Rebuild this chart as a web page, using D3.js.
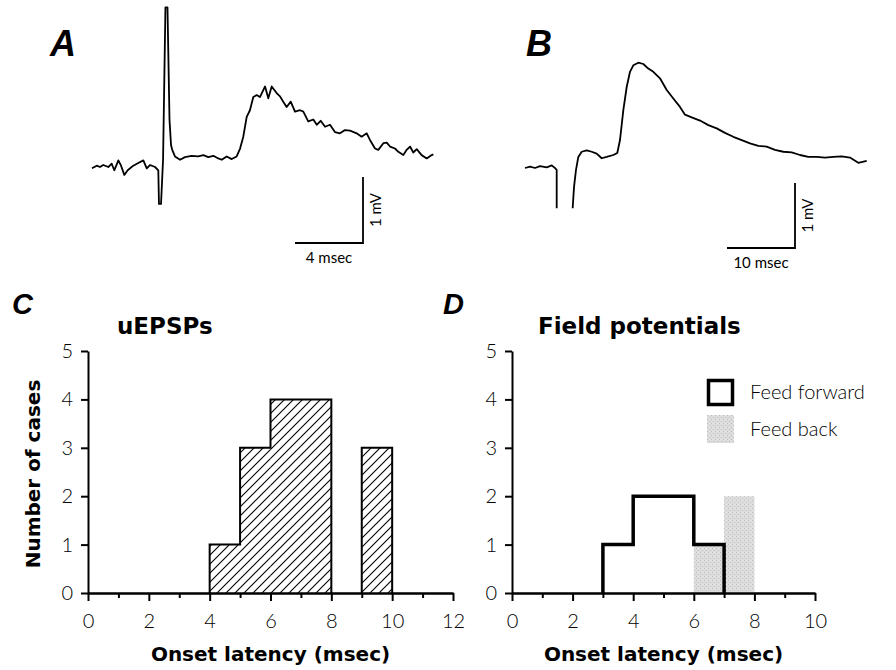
<!DOCTYPE html>
<html lang="en">
<head>
    <meta charset="UTF-8">
    <title>Onset latency figure</title>
    <script src="https://cdn.jsdelivr.net/npm/d3@7"></script>
    <style>
        body { margin: 0; background: #fff; }
        .trace { fill: none; stroke: #000; stroke-width: 1.8px; stroke-linejoin: round; }
        .axis path, .axis line { stroke: #000; stroke-width: 2px; }
        .axis text { font-family: Lato, "DejaVu Sans", sans-serif; font-weight: 300; font-size: 20px; fill: #000; }
        .panel { font-family: "Liberation Sans", Arial, sans-serif; font-weight: bold; font-style: italic; }
        .title { font-family: "DejaVu Sans", sans-serif; font-weight: bold; }
        .small { font-family: Lato, "DejaVu Sans", sans-serif; font-weight: 400; }
        .legend { font-family: Lato, "DejaVu Sans", sans-serif; font-weight: 300; }
    </style>
</head>
<body>
<svg width="896" height="670"></svg>
<script>
// ---- traces (time in msec, voltage in mV relative to baseline)
var traceA_t = [0, 0.28, 0.47, 0.66, 0.96, 1.16, 1.31, 1.55, 1.71, 1.90, 2.10, 2.43, 2.72, 3.02, 3.22, 3.41, 3.71, 3.90,
    3.94, 4.06, 4.18, 4.32, 4.44, 4.56, 4.65, 4.72, 4.88, 5.18, 5.47, 5.86, 6.25, 6.55, 6.84, 7.14, 7.43, 7.63, 7.92,
    8.22, 8.51, 8.71, 8.90, 9.10, 9.29, 9.49, 9.69, 9.88, 10.18, 10.37, 10.57, 10.86, 11.06, 11.25, 11.45, 11.69,
    11.94, 12.24, 12.43, 12.72, 13.02, 13.22, 13.45, 13.71, 14.00, 14.29, 14.59, 14.88, 15.18, 15.57, 15.86, 16.16,
    16.35, 16.65, 16.84, 17.14, 17.34, 17.53, 17.82, 18.02, 18.31, 18.51, 18.71, 18.90, 19.10, 19.39, 19.69, 19.98, 20.08];
var traceA_v = [-0.02, 0.02, 0.00, 0.03, 0.00, 0.05, -0.05, 0.10, 0.02, -0.12, -0.05, 0.02, 0.06, 0.10, -0.02, 0.03, 0.00, -0.05,
    -0.56, -0.56, 0.11, 2.42, 2.42, 0.71, 0.33, 0.26, 0.16, 0.11, 0.15, 0.17, 0.16, 0.18, 0.15, 0.17, 0.13, 0.11, 0.16,
    0.12, 0.16, 0.28, 0.46, 0.76, 0.86, 1.06, 1.09, 1.06, 1.22, 1.04, 1.22, 1.12, 1.07, 0.99, 0.91, 0.99,
    0.84, 0.86, 0.84, 0.69, 0.72, 0.64, 0.70, 0.61, 0.64, 0.53, 0.51, 0.56, 0.55, 0.51, 0.46, 0.51,
    0.41, 0.28, 0.26, 0.36, 0.37, 0.31, 0.28, 0.23, 0.18, 0.26, 0.31, 0.22, 0.27, 0.18, 0.13, 0.18, 0.19];

// null marks the off-scale stimulus artifact
var traceB_t = [0, 0.74, 1.47, 2.21, 3.19, 3.93, 4.41, 4.66, 4.66, 5.8, 7.01, 7.21, 7.50, 7.84, 8.34, 9.07, 9.81,
    10.54, 11.28, 12.01, 12.99, 13.57, 13.97, 14.46, 14.96, 15.44, 15.93, 16.66, 17.40, 18.13, 18.87, 19.85,
    20.84, 21.81, 22.79, 23.53, 24.51, 25.74, 26.96, 28.19, 29.41, 30.63, 31.87, 33.09, 34.31, 35.54, 36.76,
    37.99, 39.22, 40.44, 41.66, 42.90, 44.12, 45.34, 46.57, 47.79, 49.01, 50.25];
var traceB_v = [0.00, 0.02, 0.00, 0.03, 0.01, 0.04, 0.00, -0.03, -0.62, null, -0.62, -0.29, -0.03, 0.17, 0.25, 0.27, 0.25,
    0.22, 0.15, 0.17, 0.20, 0.23, 0.43, 0.89, 1.25, 1.48, 1.58, 1.62, 1.60, 1.53, 1.48, 1.38,
    1.20, 1.07, 0.94, 0.82, 0.78, 0.73, 0.66, 0.61, 0.54, 0.48, 0.43, 0.38, 0.34, 0.33, 0.28,
    0.25, 0.24, 0.20, 0.17, 0.17, 0.16, 0.17, 0.18, 0.16, 0.08, 0.11];

// ---- histograms (bin start in msec, count)
var uepspBins = [4, 5, 6, 7, 8, 9];
var uepspCounts = [1, 3, 4, 4, 0, 3];
var forwardBins = [3, 4, 5, 6];
var forwardCounts = [1, 2, 2, 1];
var backBins = [6, 7];
var backCounts = [1, 2];

var yTicks = [0, 1, 2, 3, 4, 5];
var xTicksC = d3.range(0, 13);
var xTicksD = d3.range(0, 11);

var svg = d3.select("svg");
svg.append("rect").attr("width", 896).attr("height", 670).attr("fill", "#fff");

var defs = svg.append("defs");
var hatch = defs.append("pattern")
    .attr("id", "hatch").attr("patternUnits", "userSpaceOnUse")
    .attr("width", 9).attr("height", 9);
hatch.append("path")
    .attr("d", "M-1,1 l2,-2 M0,9 l9,-9 M8,10 l2,-2")
    .attr("stroke", "#000").attr("stroke-width", 1.1);

var stip = defs.append("pattern")
    .attr("id", "stipple").attr("patternUnits", "userSpaceOnUse")
    .attr("width", 4).attr("height", 4);
stip.append("rect").attr("width", 4).attr("height", 4).attr("fill", "#dcdcdc");
stip.append("rect").attr("x", 0).attr("y", 0).attr("width", 1).attr("height", 1).attr("fill", "#bdbdbd");
stip.append("rect").attr("x", 2).attr("y", 2).attr("width", 1).attr("height", 1).attr("fill", "#c4c4c4");
stip.append("rect").attr("x", 2).attr("y", 0).attr("width", 1).attr("height", 1).attr("fill", "#ececec");

// ---------- Panel A / B traces
var xA = d3.scaleLinear().domain([0, 20]).range([92, 432]);
var yA = d3.scaleLinear().domain([0, 1]).range([167, 101]);
var xB = d3.scaleLinear().domain([0, 50]).range([525, 865]);
var yB = d3.scaleLinear().domain([0, 1]).range([168, 103]);

var ptsA = traceA_t.map(function(t, i) { return [t, traceA_v[i]]; });
var ptsB = traceB_t.map(function(t, i) { return [t, traceB_v[i]]; });

svg.append("path").attr("class", "trace")
    .attr("d", d3.line().x(function(d) { return xA(d[0]); }).y(function(d) { return yA(d[1]); })(ptsA));
svg.append("path").attr("class", "trace")
    .attr("d", d3.line()
        .defined(function(d) { return d[1] !== null; })
        .x(function(d) { return xB(d[0]); }).y(function(d) { return yB(d[1]); })(ptsB));

// scale bars
function scaleBar(x, y, xs, ys, ms, label) {
    var w = xs(ms) - xs(0), h = ys(0) - ys(1);
    svg.append("path")
        .attr("d", "M" + (x - w) + "," + y + "H" + x + "V" + (y - h))
        .attr("fill", "none").attr("stroke", "#000").attr("stroke-width", 1.8);
    svg.append("text").attr("class", "small")
        .attr("x", x - w / 2).attr("y", y + 20).attr("text-anchor", "middle")
        .attr("font-size", 15).text(label);
    svg.append("text").attr("class", "small")
        .attr("transform", "translate(" + (x + 18) + "," + (y - h / 2) + ") rotate(-90)")
        .attr("text-anchor", "middle").attr("font-size", 15).text("1 mV");
}
scaleBar(363, 243, xA, yA, 4, "4 msec");
scaleBar(795, 248, xB, yB, 10, "10 msec");

svg.append("text").attr("class", "panel").attr("x", 50).attr("y", 56).attr("font-size", 36).text("A");
svg.append("text").attr("class", "panel").attr("x", 526).attr("y", 56).attr("font-size", 36).text("B");

// ---------- Histograms
function histo(x0, x1, maxX, xTicks, title, titleX, letter, letterX, showYTitle) {
    var x = d3.scaleLinear().domain([0, maxX]).range([x0, x1]);
    var y = d3.scaleLinear().domain([0, 5]).range([593, 351]);
    var g = svg.append("g");

    g.append("g").attr("class", "axis")
        .attr("transform", "translate(0,593)")
        .call(d3.axisBottom(x).tickValues(xTicks.filter(function(d) { return d % 2; }))
            .tickSize(5).tickSizeOuter(0).tickFormat(""));
    g.append("g").attr("class", "axis")
        .attr("transform", "translate(0,593)")
        .call(d3.axisBottom(x).tickValues(xTicks.filter(function(d) { return d % 2 === 0; }))
            .tickSize(8).tickSizeOuter(0).tickPadding(13).tickFormat(d3.format("d")));
    g.append("g").attr("class", "axis")
        .attr("transform", "translate(" + x0 + ",0)")
        .call(d3.axisLeft(y).tickValues(yTicks).tickSize(7).tickSizeOuter(0).tickPadding(8)
            .tickFormat(d3.format("d")));

    g.append("text").attr("class", "title")
        .attr("x", (x0 + x1) / 2).attr("y", 661).attr("text-anchor", "middle")
        .attr("font-size", 20).text("Onset latency (msec)");
    g.append("text").attr("class", "title")
        .attr("x", titleX).attr("y", 334).attr("font-size", 23).text(title);
    g.append("text").attr("class", "panel")
        .attr("x", letterX).attr("y", 314).attr("font-size", 29).text(letter);
    if (showYTitle) {
        g.append("text").attr("class", "title")
            .attr("transform", "translate(40,474) rotate(-90)")
            .attr("text-anchor", "middle").attr("font-size", 20).text("Number of cases");
    }
    return { x: x, y: y, g: g };
}

function stepOutline(x, y, bins, counts) {
    var d = "", open = false;
    bins.forEach(function(b, i) {
        var c = counts[i];
        if (c > 0) {
            if (!open) { d += "M" + x(b) + "," + y(0); open = true; }
            d += "L" + x(b) + "," + y(c) + "L" + x(b + 1) + "," + y(c);
        }
        if (open && (c === 0 || i === bins.length - 1)) {
            var e = c === 0 ? b : b + 1;
            d += "L" + x(e) + "," + y(0);
            open = false;
        }
    });
    return d;
}

var C = histo(88, 453, 12, xTicksC, "uEPSPs", 117, "C", 12, true);
C.g.selectAll("rect.bar").data(uepspBins).enter().append("rect")
    .attr("x", function(d) { return C.x(d); })
    .attr("width", function(d) { return C.x(d + 1) - C.x(d); })
    .attr("y", function(d, i) { return C.y(uepspCounts[i]); })
    .attr("height", function(d, i) { return C.y(0) - C.y(uepspCounts[i]); })
    .attr("fill", "url(#hatch)");
C.g.append("path").attr("d", stepOutline(C.x, C.y, uepspBins, uepspCounts))
    .attr("fill", "none").attr("stroke", "#000").attr("stroke-width", 2);

var D = histo(512, 815, 10, xTicksD, "Field potentials", 538, "D", 443, false);
D.g.selectAll("rect.back").data(backBins).enter().append("rect")
    .attr("x", function(d) { return D.x(d); })
    .attr("width", function(d) { return D.x(d + 1) - D.x(d); })
    .attr("y", function(d, i) { return D.y(backCounts[i]); })
    .attr("height", function(d, i) { return D.y(0) - D.y(backCounts[i]) - 1; })
    .attr("fill", "url(#stipple)");
D.g.append("path").attr("d", stepOutline(D.x, D.y, forwardBins, forwardCounts))
    .attr("fill", "none").attr("stroke", "#000").attr("stroke-width", 3.5);

// legend
var leg = svg.append("g").attr("transform", "translate(707,379)");
leg.append("rect").attr("x", 1.5).attr("y", 1.5).attr("width", 24).attr("height", 24)
    .attr("fill", "none").attr("stroke", "#000").attr("stroke-width", 3.5);
leg.append("rect").attr("x", 0).attr("y", 36).attr("width", 27).attr("height", 28)
    .attr("fill", "url(#stipple)");
leg.append("text").attr("class", "legend").attr("x", 43).attr("y", 20).attr("font-size", 20).text("Feed forward");
leg.append("text").attr("class", "legend").attr("x", 43).attr("y", 57).attr("font-size", 20).text("Feed back");
</script>
</body>
</html>
